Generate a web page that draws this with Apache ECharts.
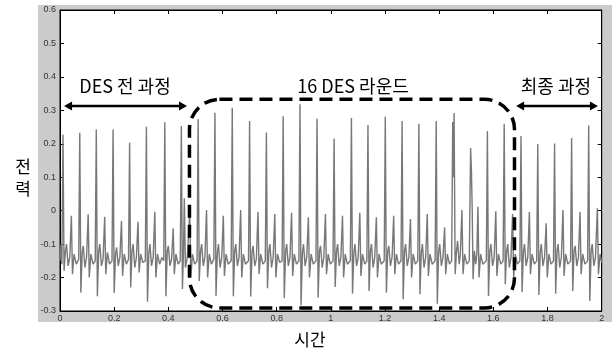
<!DOCTYPE html>
<html><head><meta charset="utf-8">
<script src="https://cdn.jsdelivr.net/npm/echarts@6/dist/echarts.min.js"></script>
<style>html,body{margin:0;padding:0;background:#fff}#c{width:612px;height:352px}</style>
</head><body><div id="c"></div>
<script>
// ---------- data (time, power) ----------
const traceBeforeDES = [
[0,-0.15],[0.004,-0.1],[0.007,-0.16],
[0.011,0.228],[0.015,-0.18],[0.020,-0.12],[0.024,-0.10],[0.030,-0.165],[0.036,-0.14],[0.042,-0.015],[0.046,-0.19],[0.052,-0.13],[0.060,-0.16],
[0.069,-0.145],[0.073,0.233],[0.077,-0.245],[0.082,-0.125],[0.086,-0.105],[0.092,-0.17],[0.098,-0.14],[0.104,-0.011],[0.108,-0.2],[0.114,-0.13],[0.122,-0.16],
[0.130,-0.15],[0.134,0.243],[0.138,-0.256],[0.143,-0.12],[0.147,-0.1],[0.153,-0.165],[0.159,-0.145],[0.165,-0.018],[0.169,-0.19],[0.175,-0.125],[0.183,-0.16],
[0.192,-0.15],[0.196,0.243],[0.200,-0.246],[0.205,-0.13],[0.209,-0.11],[0.215,-0.165],[0.221,-0.14],[0.227,-0.031],[0.231,-0.195],[0.237,-0.13],[0.245,-0.16],
[0.253,-0.145],[0.257,0.203],[0.261,-0.23],[0.266,-0.12],[0.270,-0.1],[0.276,-0.17],[0.282,-0.14],[0.288,-0.033],[0.292,-0.185],[0.298,-0.13],[0.306,-0.155],
[0.315,-0.15],[0.319,0.251],[0.323,-0.272],[0.328,-0.125],[0.332,-0.1],[0.338,-0.165],[0.344,-0.14],[0.350,-0.003],[0.354,-0.2],[0.360,-0.13],[0.368,-0.16],
[0.376,-0.14],[0.383,-0.15],[0.387,0.264],[0.391,-0.256],[0.396,-0.12],[0.400,-0.105],[0.406,-0.165],[0.412,-0.145],[0.418,-0.053],[0.422,-0.19],[0.428,-0.13],[0.436,-0.16],
[0.444,-0.15],[0.448,0.253],[0.452,-0.234],[0.456,-0.12],[0.459,0.037],[0.463,-0.17],[0.470,-0.14],[0.479,-0.003],[0.483,-0.2],[0.489,-0.13],[0.497,-0.16]
];
const traceRounds = [
[0.506,-0.15],[0.510,0.274],[0.514,-0.21],[0.519,-0.12],[0.523,-0.1],[0.529,-0.165],[0.535,-0.14],[0.541,0.002],[0.545,-0.2],[0.551,-0.13],[0.559,-0.16],
[0.568,-0.145],[0.572,0.293],[0.576,-0.255],[0.581,-0.125],[0.585,-0.1],[0.591,-0.17],[0.597,-0.14],[0.603,-0.015],[0.607,-0.195],[0.613,-0.13],[0.621,-0.16],
[0.632,-0.15],[0.636,0.308],[0.640,-0.256],[0.645,-0.12],[0.649,-0.1],[0.655,-0.165],[0.661,-0.14],[0.667,0.002],[0.671,-0.2],[0.677,-0.13],[0.685,-0.16],
[0.696,-0.15],[0.700,0.268],[0.704,-0.257],[0.709,-0.125],[0.713,-0.105],[0.719,-0.165],[0.725,-0.145],[0.731,-0.003],[0.735,-0.19],[0.741,-0.13],[0.749,-0.16],
[0.758,-0.15],[0.762,0.234],[0.766,-0.232],[0.771,-0.12],[0.775,-0.1],[0.781,-0.17],[0.787,-0.14],[0.793,-0.01],[0.797,-0.2],[0.803,-0.13],[0.811,-0.155],
[0.820,-0.15],[0.824,0.282],[0.828,-0.261],[0.833,-0.12],[0.837,-0.1],[0.843,-0.165],[0.849,-0.14],[0.855,-0.006],[0.859,-0.195],[0.865,-0.13],[0.873,-0.16],
[0.882,-0.15],[0.886,0.318],[0.890,-0.283],[0.895,-0.125],[0.899,-0.1],[0.905,-0.165],[0.911,-0.14],[0.917,-0.02],[0.921,-0.2],[0.927,-0.13],[0.935,-0.16],
[0.945,-0.15],[0.949,0.275],[0.953,-0.26],[0.958,-0.12],[0.962,-0.105],[0.968,-0.17],[0.974,-0.14],[0.980,-0.01],[0.984,-0.19],[0.990,-0.13],[0.998,-0.16],
[1.008,-0.15],[1.012,0.216],[1.016,-0.228],[1.021,-0.12],[1.025,-0.1],[1.031,-0.165],[1.037,-0.14],[1.043,-0.015],[1.047,-0.2],[1.053,-0.13],[1.061,-0.16],
[1.072,-0.15],[1.076,0.277],[1.080,-0.248],[1.085,-0.125],[1.089,-0.1],[1.095,-0.165],[1.101,-0.14],[1.107,-0.006],[1.111,-0.195],[1.117,-0.13],[1.125,-0.16],
[1.133,-0.15],[1.137,0.256],[1.141,-0.24],[1.146,-0.12],[1.150,-0.1],[1.156,-0.17],[1.162,-0.14],[1.168,-0.02],[1.172,-0.2],[1.178,-0.13],[1.186,-0.16],
[1.197,-0.15],[1.201,0.281],[1.205,-0.245],[1.210,-0.12],[1.214,-0.105],[1.220,-0.165],[1.226,-0.14],[1.232,-0.015],[1.236,-0.19],[1.242,-0.13],[1.250,-0.16],
[1.259,-0.15],[1.263,0.268],[1.267,-0.265],[1.272,-0.12],[1.276,-0.1],[1.282,-0.165],[1.288,-0.14],[1.294,-0.025],[1.298,-0.2],[1.304,-0.13],[1.312,-0.16],
[1.321,-0.15],[1.325,0.26],[1.329,-0.25],[1.334,-0.125],[1.338,-0.1],[1.344,-0.17],[1.350,-0.14],[1.356,-0.01],[1.360,-0.195],[1.366,-0.13],[1.374,-0.16],
[1.385,-0.15],[1.389,0.268],[1.393,-0.278],[1.398,-0.12],[1.402,-0.1],[1.408,-0.165],[1.414,-0.14],[1.420,-0.05],[1.424,-0.19],[1.430,-0.13],[1.438,-0.16],
[1.446,-0.15],[1.450,0.265],[1.452,0.1],[1.455,0.292],[1.459,-0.19],[1.464,-0.12],[1.468,-0.09],[1.474,-0.16],[1.478,-0.13],[1.484,0.002],[1.488,-0.19],[1.494,-0.13],[1.502,-0.16],
[1.511,-0.15],[1.516,0.187],[1.519,0.12],[1.522,0.0],[1.525,-0.205],[1.530,-0.12],[1.535,-0.16],[1.539,-0.13],[1.543,0.012],[1.547,-0.2],[1.553,-0.13],[1.561,-0.16],
[1.574,-0.15],[1.578,0.238],[1.582,-0.255],[1.587,-0.12],[1.591,-0.1],[1.597,-0.165],[1.603,-0.14],[1.609,-0.002],[1.613,-0.195],[1.619,-0.13],[1.627,-0.16],
[1.636,-0.15],[1.640,0.26],[1.644,-0.22],[1.649,-0.12],[1.653,-0.1],[1.659,-0.17],[1.665,-0.14],[1.671,-0.01],[1.675,-0.2],[1.681,-0.13],[1.689,-0.16]
];
const traceFinal = [
[1.698,-0.15],[1.702,0.223],[1.706,-0.244],[1.711,-0.12],[1.715,-0.1],[1.721,-0.165],[1.727,-0.14],[1.733,-0.003],[1.737,-0.19],[1.743,-0.13],[1.751,-0.16],
[1.760,-0.15],[1.764,0.199],[1.768,-0.252],[1.773,-0.125],[1.777,-0.1],[1.783,-0.165],[1.789,-0.14],[1.795,-0.038],[1.799,-0.2],[1.805,-0.13],[1.813,-0.16],
[1.822,-0.15],[1.826,0.201],[1.830,-0.248],[1.835,-0.12],[1.839,-0.1],[1.845,-0.17],[1.851,-0.14],[1.857,0.002],[1.861,-0.195],[1.867,-0.13],[1.875,-0.16],
[1.885,-0.15],[1.889,0.217],[1.893,-0.24],[1.898,-0.12],[1.902,-0.105],[1.908,-0.165],[1.914,-0.14],[1.920,-0.003],[1.924,-0.19],[1.930,-0.13],[1.938,-0.16],
[1.948,-0.15],[1.952,0.255],[1.956,-0.27],[1.961,-0.12],[1.965,-0.1],[1.971,-0.165],[1.977,-0.14],[1.984,0.007],[1.988,-0.19],[1.994,-0.13],[2.0,-0.155]
];
const xRange = [0, 2, 0.2];      // min, max, tick step
const yRange = [-0.3, 0.6, 0.1];
const phaseLabels = ['DES 전 과정', '16 DES 라운드', '최종 과정'];
const xTitle = '시간';
const yTitle = '전\n력';

// ---------- layout / styles ----------
const KR = '"Noto Sans CJK KR","Noto Sans CJK SC",sans-serif';
const fmt = v => String(Math.round(v * 10) / 10);
const axisCommon = (pos, showLabel) => ({
  type: 'value', position: pos,
  axisLine: { show: true, onZero: false, lineStyle: { color: '#000', width: 1 } },
  axisTick: { show: true, inside: true, length: 4, lineStyle: { color: '#000', width: 1 } },
  axisLabel: { show: showLabel, fontSize: 9, color: '#333', fontFamily: '"Liberation Sans",Arial,sans-serif', formatter: fmt },
  splitLine: { show: false }
});
const xa = (pos, lab) => Object.assign(axisCommon(pos, lab), { min: xRange[0], max: xRange[1], interval: xRange[2] });
const ya = (pos, lab) => Object.assign(axisCommon(pos, lab), { min: yRange[0], max: yRange[1], interval: yRange[2] });

const chart = echarts.init(document.getElementById('c'), null, { renderer: 'canvas', width: 612, height: 352 });
const option = {
  animation: false,
  backgroundColor: '#fff',
  grid: { left: 60, top: 10, right: 10.3, bottom: 41, show: true, backgroundColor: '#fff', borderColor: '#000', borderWidth: 1 },
  xAxis: [Object.assign(xa('bottom', true), { axisLabel: Object.assign(axisCommon('bottom', true).axisLabel, { margin: 3 }) }), xa('top', false)],
  yAxis: [Object.assign(ya('left', true), { axisLabel: Object.assign(axisCommon('left', true).axisLabel, { margin: 4 }) }), ya('right', false)],
  series: [{
    type: 'line', xAxisIndex: 0, yAxisIndex: 0, showSymbol: false, symbol: 'none',
    lineStyle: { color: '#787878', width: 1.4 },
    data: traceBeforeDES.concat(traceRounds, traceFinal)
  }]
};
chart.setOption(option);

// annotations positioned in data units, converted through the axes
const P = (t, v) => chart.convertToPixel({ xAxisIndex: 0, yAxisIndex: 0 }, [t, v]);
const ann = {
  labelV: 0.373,
  labelT: [0.240, 1.082, 1.831],
  arrowV: 0.313,
  arrows: [[0.015, 0.469], [1.684, 1.986]],
  box: { t0: 0.478, t1: 1.678, vTop: 0.333, vBot: -0.291 }
};
const g = [];
g.push({ type: 'rect', z: -100, silent: true, shape: { x: 38, y: 5, width: 574, height: 317 }, style: { fill: '#cbcbcb' } });
function arrow(t0, t1, v) {
  const a = P(t0, v), b = P(t1, v), hl = 8, hw = 4.5;
  g.push({ type: 'line', z: 50, shape: { x1: a[0] + hl - 1, y1: a[1], x2: b[0] - hl + 1, y2: b[1] }, style: { stroke: '#000', lineWidth: 2.5 } });
  g.push({ type: 'polygon', z: 50, shape: { points: [[a[0], a[1]], [a[0] + hl, a[1] - hw], [a[0] + hl, a[1] + hw]] }, style: { fill: '#000' } });
  g.push({ type: 'polygon', z: 50, shape: { points: [[b[0], b[1]], [b[0] - hl, b[1] - hw], [b[0] - hl, b[1] + hw]] }, style: { fill: '#000' } });
}
ann.arrows.forEach(r => arrow(r[0], r[1], ann.arrowV));
{
  const p0 = P(ann.box.t0, ann.box.vTop), p1 = P(ann.box.t1, ann.box.vBot);
  g.push({ type: 'rect', z: 50, shape: { x: p0[0], y: p0[1], width: p1[0] - p0[0], height: p1[1] - p0[1], r: 30 },
    style: { fill: 'transparent', stroke: '#000', lineWidth: 3.5, lineDash: [13, 7] } });
}
phaseLabels.forEach((txt, i) => {
  const p = P(ann.labelT[i], ann.labelV);
  g.push({ type: 'text', z: 60, x: p[0], y: p[1], style: { text: txt, font: '18px ' + KR, fill: '#000', align: 'center', verticalAlign: 'middle', textAlign: 'center', textVerticalAlign: 'middle' } });
});
g.push({ type: 'text', z: 60, x: 23, y: 178, style: { text: yTitle, font: '17px ' + KR, lineHeight: 22, fill: '#000', align: 'center', verticalAlign: 'middle', textAlign: 'center', textVerticalAlign: 'middle' } });
g.push({ type: 'text', z: 60, x: 310, y: 340, style: { text: xTitle, font: '17px ' + KR, fill: '#000', align: 'center', verticalAlign: 'middle', textAlign: 'center', textVerticalAlign: 'middle' } });
chart.setOption({ graphic: { elements: g } });
</script>
</body></html>
